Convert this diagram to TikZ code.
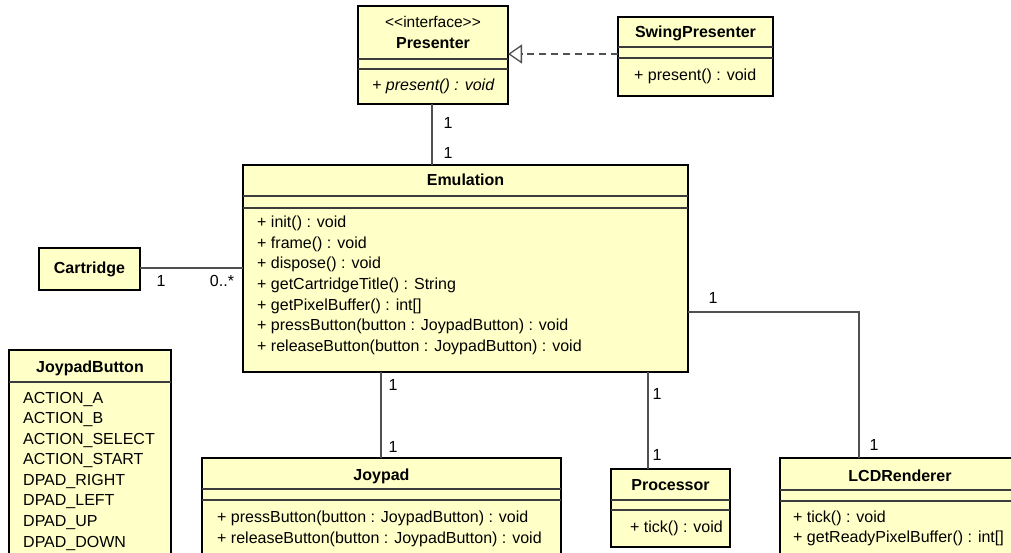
\documentclass[tikz,border=0pt]{standalone}
\usepackage{fontspec}
\setmainfont{Liberation Sans}
\usetikzlibrary{arrows.meta}
\definecolor{umlfill}{HTML}{FFFFC8}
\definecolor{sepgray}{HTML}{3C3C3C}
\definecolor{wiregray}{HTML}{505050}
% horizontal compartment line across a class box at height #2
\newcommand{\umlsep}[2]{\draw[sepline] (#1.west |- 0,#2) -- (#1.east |- 0,#2);}
\begin{document}
\begin{tikzpicture}[x=1pt,y=-1pt,
  cls/.style={draw=black, line width=2.2pt, fill=umlfill, anchor=north west, inner sep=0pt, outer sep=0pt},
  sepline/.style={draw=sepgray, line width=1.3pt},
  member/.style={anchor=west, inner sep=0pt, font=\fontsize{16}{18}\selectfont, text height=11.5pt, text depth=3.5pt},
  title/.style={inner sep=0pt, font=\fontsize{16}{18}\selectfont\bfseries, text height=11.5pt, text depth=3.5pt},
  stereo/.style={inner sep=0pt, font=\fontsize{15.5}{18}\selectfont, text height=11pt, text depth=3pt},
  mult/.style={inner sep=0pt, font=\fontsize{16}{18}\selectfont, text height=11.5pt, text depth=0pt},
  assoc/.style={draw=wiregray, line width=1.3pt},
  realize/.style={draw=wiregray, line width=1.3pt, dash pattern=on 7pt off 5pt,
    -{Triangle[open, length=14pt, width=19pt, fill=white, line width=1.3pt]}}]
\useasboundingbox (0,0) rectangle (1011,553);
\clip (0,0) rectangle (1011,553);
\fill[white] (0,0) rectangle (1011,553);

% class boxes
\node[cls, minimum width=150pt, minimum height=98pt]  (presenter) at (358,6)   {};
\node[cls, minimum width=155pt, minimum height=79pt]  (swing)     at (618,17)  {};
\node[cls, minimum width=445pt, minimum height=207pt] (emulation) at (243,165) {};
\node[cls, minimum width=101pt, minimum height=42pt]  (cartridge) at (39,248)  {};
\node[cls, minimum width=162pt, minimum height=230pt] (buttons)   at (9,350)   {};
\node[cls, minimum width=359pt, minimum height=120pt] (joypad)    at (202,458) {};
\node[cls, minimum width=119pt, minimum height=78pt]  (processor) at (611,469) {};
\node[cls, minimum width=240pt, minimum height=120pt] (lcd)       at (780,458) {};

% Presenter
\node[stereo] (presenterSt) at (433,24) {<\kern0pt<interface>\kern0pt>};
\node[title] (presenterT) at (433,45) {Presenter};
\umlsep{presenter}{59}
\umlsep{presenter}{69}
\node[member, font=\fontsize{16}{18}\selectfont\itshape] (presenterM1) at (372,87) {+ present() : void};

% SwingPresenter
\node[title] (swingT) at (695.5,34) {SwingPresenter};
\umlsep{swing}{47}
\umlsep{swing}{58}
\node[member] (swingM1) at (634,77) {+ present() : void};

% Emulation
\node[title] (emulationT) at (465.5,182) {Emulation};
\umlsep{emulation}{196}
\umlsep{emulation}{208}
\node[member] (emuM1) at (257,224) {+ init() : void};
\node[member] (emuM2) at (257,244) {+ frame() : void};
\node[member] (emuM3) at (257,265) {+ dispose() : void};
\node[member] (emuM4) at (257,285) {+ getCartridgeTitle() : String};
\node[member] (emuM5) at (257,306) {+ getPixelBuffer() : int[]};
\node[member] (emuM6) at (257,326) {+ pressButton(button : JoypadButton) : void};
\node[member] (emuM7) at (257,347) {+ releaseButton(button : JoypadButton) : void};

% Cartridge
\node[title] (cartridgeT) at (89.5,269) {Cartridge};

% JoypadButton
\node[title] (buttonsT) at (90,368) {JoypadButton};
\umlsep{buttons}{382}
\node[member] (btn1) at (23,399) {ACTION\_A};
\node[member] (btn2) at (23,419) {ACTION\_B};
\node[member] (btn3) at (23,440) {ACTION\_SELECT};
\node[member] (btn4) at (23,460) {ACTION\_START};
\node[member] (btn5) at (23,481) {DPAD\_RIGHT};
\node[member] (btn6) at (23,501) {DPAD\_LEFT};
\node[member] (btn7) at (23,522) {DPAD\_UP};
\node[member] (btn8) at (23,543) {DPAD\_DOWN};

% Joypad
\node[title] (joypadT) at (381.5,476) {Joypad};
\umlsep{joypad}{489}
\umlsep{joypad}{500}
\node[member] (joyM1) at (217,518) {+ pressButton(button : JoypadButton) : void};
\node[member] (joyM2) at (217,539) {+ releaseButton(button : JoypadButton) : void};

% Processor
\node[title] (processorT) at (670.5,486) {Processor};
\umlsep{processor}{500}
\umlsep{processor}{510}
\node[member] (procM1) at (630,528) {+ tick() : void};

% LCDRenderer
\node[title] (lcdT) at (900,477) {LCDRenderer};
\umlsep{lcd}{490}
\umlsep{lcd}{501}
\node[member] (lcdM1) at (793,518) {+ tick() : void};
\node[member] (lcdM2) at (793,538) {+ getReadyPixelBuffer() : int[]};

% relationships
\draw[realize] (swing.west |- 0,54) -- (presenter.east |- 0,54);
\draw[assoc] (presenter.south -| 432,0) -- (emulation.north -| 432,0);
\draw[assoc] (cartridge.east |- 0,268) -- (emulation.west |- 0,268);
\draw[assoc] (emulation.south -| 381,0) -- (joypad.north -| 381,0);
\draw[assoc] (emulation.south -| 648,0) -- (processor.north -| 648,0);
\draw[assoc] (emulation.east |- 0,312) -| (lcd.north -| 859,0);

% multiplicities
\node[mult] (mPresTop) at (448,123) {1};
\node[mult] (mPresBot) at (448,153) {1};
\node[mult] (mCartL)   at (161,281) {1};
\node[mult] (mCartR)   at (222,281) {0..*};
\node[mult] (mJoyTop)  at (393,385) {1};
\node[mult] (mJoyBot)  at (393,447) {1};
\node[mult] (mProcTop) at (657,394) {1};
\node[mult] (mProcBot) at (657,455) {1};
\node[mult] (mLcdTop)  at (713,298) {1};
\node[mult] (mLcdBot)  at (874,445) {1};
\end{tikzpicture}
\end{document}
